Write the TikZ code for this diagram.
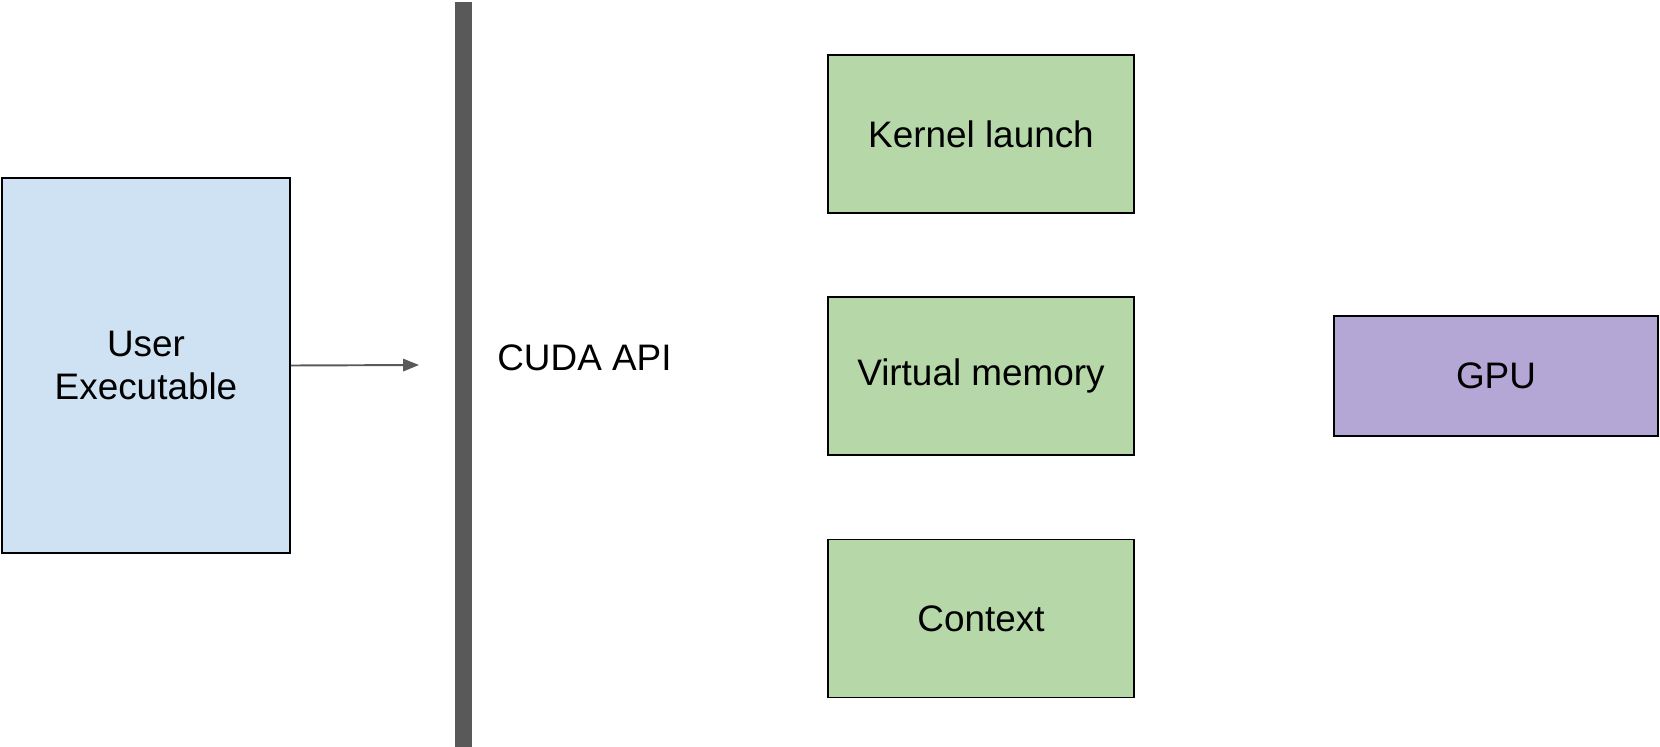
\documentclass[tikz,border=0pt]{standalone}
\usepackage{fontspec}
\setmainfont{Liberation Sans}
\usetikzlibrary{arrows.meta}
\definecolor{userblue}{HTML}{CFE2F3}
\definecolor{apigreen}{HTML}{B6D7A8}
\definecolor{gpupurple}{HTML}{B4A7D6}
\definecolor{bargray}{HTML}{595959}
\tikzset{
  box/.style={draw=black,line width=1.1pt,inner sep=0pt,align=center,
    font=\fontsize{21}{25}\selectfont},
  apibox/.style={box,fill=apigreen,minimum width=6.12cm,minimum height=3.16cm},
}
\begin{document}
\begin{tikzpicture}[x=0.02cm,y=-0.02cm]
  \useasboundingbox (0,0) rectangle (1660,747);
  % user side
  \node[box,fill=userblue,minimum width=5.76cm,minimum height=7.5cm] (user) at (146,365.5) {User\\Executable};
  % API wall
  \fill[bargray] (455,2) rectangle (472,747);
  \node[anchor=west,inner sep=0pt,font=\fontsize{21}{25}\selectfont] (api) at (497,358) {CUDA API};
  % arrow towards the wall
  \coordinate (tip) at (419,365);
  \draw[bargray,line width=1.1pt,-{Triangle[length=9pt,width=7pt]}] (user.east) -- (tip);
  % driver parts
  \node[apibox] (kernel) at (981,134) {Kernel launch};
  \node[apibox] (vmem)   at (981,376) {Virtual memory};
  \node[apibox] (ctx)    at (981,618.5) {Context};
  % device
  \node[box,fill=gpupurple,minimum width=6.48cm,minimum height=2.4cm] (gpu) at (1496,376) {GPU};
\end{tikzpicture}
\end{document}
